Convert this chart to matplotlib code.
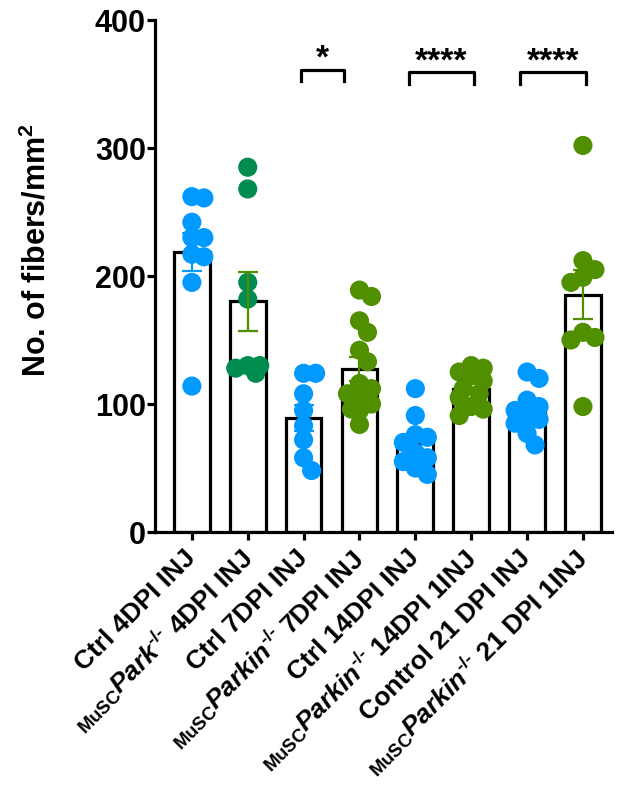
import numpy as np
import matplotlib
matplotlib.use("Agg")
import matplotlib.pyplot as plt

plt.rcParams['font.family'] = ['Liberation Sans', 'DejaVu Sans']
plt.rcParams['font.weight'] = 'bold'
plt.rcParams['mathtext.fontset'] = 'custom'
plt.rcParams['mathtext.rm'] = 'Liberation Sans:bold'
plt.rcParams['mathtext.bf'] = 'Liberation Sans:bold'
plt.rcParams['mathtext.it'] = 'Liberation Sans:italic:bold'
plt.rcParams['mathtext.bfit'] = 'Liberation Sans:italic:bold'
plt.rcParams['axes.unicode_minus'] = False

# ---------------- data ----------------
categories = [
    "Ctrl 4DPI INJ",
    r"$_{\mathbf{MuSC}}\mathbfit{Park}^{\text{-/-}}$ 4DPI INJ",
    "Ctrl 7DPI INJ",
    r"$_{\mathbf{MuSC}}\mathbfit{Parkin}^{\text{-/-}}$ 7DPI INJ",
    "Ctrl 14DPI INJ",
    r"$_{\mathbf{MuSC}}\mathbfit{Parkin}^{\text{-/-}}$ 14DPI 1INJ",
    "Control 21 DPI INJ",
    r"$_{\mathbf{MuSC}}\mathbfit{Parkin}^{\text{-/-}}$ 21 DPI 1INJ",
]
ctrl_4dpi = [261, 262, 242, 230, 230, 215, 217, 195, 114]
park_4dpi = [285, 268, 195, 182, 130, 128, 124, 130]
ctrl_7dpi = [124, 124, 108, 95, 83, 72, 58, 48]
park_7dpi = [189, 184, 165, 156, 142, 133, 116, 112, 105, 100, 96, 84, 108, 95]
ctrl_14dpi = [112, 91, 76, 74, 70, 62, 58, 55, 50, 45]
park_14dpi = [130, 128, 125, 122, 118, 112, 108, 105, 98, 96, 91]
ctrl_21dpi = [125, 120, 103, 98, 95, 90, 88, 85, 77, 68]
park_21dpi = [302, 212, 205, 199, 195, 156, 150, 152, 98]
groups = [ctrl_4dpi, park_4dpi, ctrl_7dpi, park_7dpi,
          ctrl_14dpi, park_14dpi, ctrl_21dpi, park_21dpi]

yticks = [0, 100, 200, 300, 400]
comparisons = [(2, 3, "*"), (4, 5, "****"), (6, 7, "****")]

# ---------------- styles ----------------
blue = "#0099FF"
dkgreen = "#008C4F"
olive = "#4F8F00"
point_colors = [blue, dkgreen, blue, olive, blue, olive, blue, olive]
err_colors = [blue, olive, blue, olive, blue, olive, blue, olive]

W, H = 624, 797
fig = plt.figure(figsize=(W / 100, H / 100), dpi=100)
ax_l, ax_r, ax_t, ax_b = 155, 612, 20, 532
ax = fig.add_axes([ax_l / W, (H - ax_b) / H, (ax_r - ax_l) / W, (ax_b - ax_t) / H])
xlim = (-0.66, 7.52)
ylim = (0, 400)
ax.set_xlim(*xlim)
ax.set_ylim(*ylim)

px_per_x = (ax_r - ax_l) / (xlim[1] - xlim[0])
px_per_y = (ax_b - ax_t) / (ylim[1] - ylim[0])


def swarm_offsets(vals, min_dist=13.0):
    vals = np.asarray(vals, float)
    order = np.argsort(-vals)
    placed = []
    offs = np.zeros(len(vals))
    cands = [0.0, 8.0, -8.0, 12.0, -12.0]
    for i in order:
        yp = vals[i] * px_per_y
        best, best_d = 0.0, -1.0
        for c in cands:
            d = min([np.hypot(c - px, yp - py) for px, py in placed] + [1e9])
            if d >= min_dist:
                best = c
                break
            if d > best_d:
                best, best_d = c, d
        placed.append((best, yp))
        offs[i] = best / px_per_x
    return offs


lw = 2.3
x = np.arange(len(groups))
means = [np.mean(g) for g in groups]
sems = [np.std(g, ddof=1) / np.sqrt(len(g)) for g in groups]

ax.bar(x, means, width=0.64, facecolor="white", edgecolor="black",
       linewidth=lw, zorder=2)

for i, g in enumerate(groups):
    offs = swarm_offsets(g)
    ax.scatter(x[i] + offs, g, s=190, color=point_colors[i], edgecolors="none",
               zorder=3, clip_on=False)
    ax.errorbar(x[i], means[i], yerr=sems[i], fmt="none", ecolor=err_colors[i],
                elinewidth=1.6, capsize=7, capthick=1.6, zorder=4)

# significance brackets
for a, b, lab in comparisons:
    yb = 361 if lab == "*" else 359
    left = a - 0.05 if lab == "*" else a - 0.12
    right = b - 0.28 if lab == "*" else b + 0.05
    ax.plot([left, left, right, right], [yb - 9, yb, yb, yb - 9], color="black",
            lw=lw, zorder=5, clip_on=False)
    ax.text((left + right) / 2, yb - 4, lab, ha="center", va="bottom",
            fontsize=24, fontweight="bold")

# axes styling
for s in ["top", "right"]:
    ax.spines[s].set_visible(False)
for s in ["left", "bottom"]:
    ax.spines[s].set_linewidth(lw)
ax.set_yticks(yticks)
ax.set_yticklabels([str(t) for t in yticks], fontsize=22, fontweight="bold")
ax.tick_params(axis="y", direction="out", length=6, width=lw, pad=0.5)
ax.tick_params(axis="x", direction="out", length=6, width=lw, pad=10)
ax.set_xticks(x)
ax.set_xticklabels(categories, rotation=45, ha="right", va="center",
                   rotation_mode="anchor", fontsize=19, fontweight="bold")
ax.set_ylabel(r"No. of fibers/mm$^{\mathbf{2}}$", fontsize=22, fontweight="bold")
ax.yaxis.set_label_coords((37 - ax_l) / (ax_r - ax_l), (ax_b - 250) / (ax_b - ax_t))
ax.yaxis.label.set_verticalalignment("center")

fig.savefig("out.png", dpi=100)
